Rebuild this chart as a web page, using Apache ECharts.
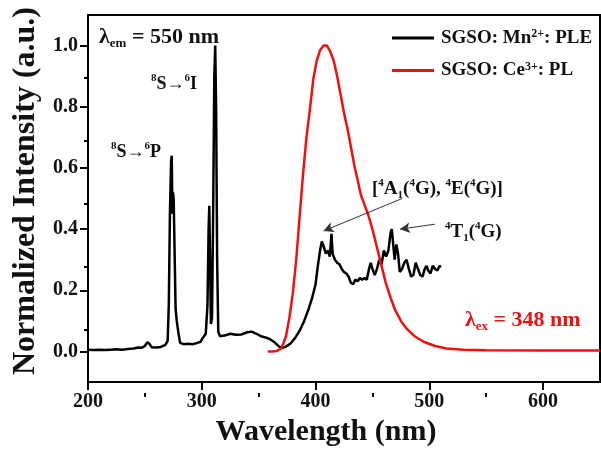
<!DOCTYPE html>
<html>
<head>
<meta charset="utf-8">
<script src="https://cdn.jsdelivr.net/npm/echarts@6/dist/echarts.min.js"></script>
<style>html,body{margin:0;padding:0;background:#fff}#c{width:601px;height:452px}</style>
</head>
<body>
<div id="c"></div>
<script>
// ---- data ----
const pleWavelength = [200,205,210,215,220,225,230,235,240,244,247,250,252,254,256,260,264,268,270,271,272,273,273.6,274.2,274.7,275.3,276,277,278,279.5,281,284,288,292,296,299,300.5,302,303.5,305,306,306.6,307.3,308,309,310,311,311.8,312.6,313.5,314.5,316,320,325,330,335,340,344,348,352,356,360,364,368,371,374,378,382,386,390,394,397,400,402,404,405.5,407,409,411,412.5,414,415,417,419,421,423,425,427,429,431,433,435,437,439,441,443,445,447,448.5,450,452,454,456,458,460,462,464,466,467,468.5,469.5,471,472.5,474,476,478,480,482,484,486,488,490,492,494,496,497.5,499,501,503,505,507,509,510];
const pleIntensity = [0.006,0.005,0.006,0.005,0.006,0.007,0.006,0.008,0.010,0.013,0.012,0.018,0.030,0.025,0.014,0.013,0.015,0.022,0.035,0.15,0.45,0.62,0.64,0.45,0.52,0.50,0.35,0.14,0.10,0.06,0.028,0.024,0.025,0.024,0.028,0.032,0.042,0.048,0.058,0.15,0.40,0.476,0.30,0.09,0.11,0.45,0.90,1.0,0.80,0.30,0.065,0.050,0.052,0.058,0.055,0.056,0.063,0.065,0.058,0.050,0.046,0.040,0.030,0.016,0.012,0.016,0.026,0.044,0.068,0.10,0.14,0.175,0.22,0.28,0.33,0.36,0.345,0.32,0.33,0.31,0.385,0.32,0.30,0.29,0.285,0.27,0.26,0.255,0.245,0.225,0.22,0.235,0.23,0.24,0.235,0.24,0.235,0.27,0.29,0.27,0.25,0.27,0.30,0.285,0.33,0.31,0.33,0.39,0.40,0.34,0.30,0.35,0.32,0.26,0.27,0.29,0.30,0.27,0.245,0.25,0.29,0.27,0.25,0.245,0.27,0.28,0.265,0.255,0.28,0.27,0.265,0.28,0.275];

const plWavelength = [358,362,366,370,374,377,380,383,386,389,392,395,398,401,404,407,410,413,416,419,422,425,428,431,434,437,440,443,446,450,454,458,462,466,470,475,480,487,495,505,515,530,550,600,650];
const plIntensity = [0,0,0.002,0.01,0.05,0.11,0.19,0.30,0.44,0.58,0.70,0.79,0.89,0.95,0.985,1.0,1.0,0.98,0.95,0.90,0.84,0.78,0.73,0.67,0.61,0.56,0.51,0.48,0.45,0.40,0.34,0.28,0.22,0.175,0.135,0.10,0.075,0.05,0.032,0.018,0.01,0.006,0.004,0.003,0.003];

const xMajorTicks = [200,300,400,500,600];
const xMinorTicks = [250,350,450,550];
const yMajorTicks = [0,0.2,0.4,0.6,0.8,1.0];
const yMinorTicks = [0.1,0.3,0.5,0.7,0.9];

const seriesNames = ['SGSO: Mn2+: PLE','SGSO: Ce3+: PL'];

// arrows (data coordinates): [from, to]
const arrowLines = [
  [[476,0.50],[407,0.394]],
  [[504.8,0.416],[474.2,0.40]]
];

const FONT = "'Liberation Serif','Times New Roman',serif";
const zip = (a,b) => a.map((v,i)=>[v,b[i]]);

const chart = echarts.init(document.getElementById('c'), null, {renderer:'canvas'});

const richBase = (size, color) => ({
  n:   {fontSize:size, fontWeight:'bold', fontFamily:FONT, color:color, lineHeight:size+4},
  sup: {fontSize:Math.round(size*0.6), fontWeight:'bold', fontFamily:FONT, color:color, verticalAlign:'top', lineHeight:Math.round(size*0.6)},
  sub: {fontSize:Math.round(size*0.6), fontWeight:'bold', fontFamily:FONT, color:color, verticalAlign:'bottom', lineHeight:Math.round(size*0.6)},
  ar:  {fontSize:size, fontWeight:'bold', fontFamily:FONT, color:color, lineHeight:size+4}
});

function txt(x, y, text, size, color) {
  return {
    type:'text', x:x, y:y, silent:true,
    style:{text:text, rich:richBase(size,color), align:'left', verticalAlign:'middle', fill:color}
  };
}

const gridBox = {left:88, right:1, top:15, bottom:59};

const option = {
  animation:false,
  backgroundColor:'#fff',
  grid:[
    Object.assign({show:true, borderColor:'#000', borderWidth:2, backgroundColor:'transparent'}, gridBox),
    Object.assign({show:false}, gridBox)
  ],
  legend:{
    orient:'vertical', left:387, top:23, itemWidth:42, itemHeight:3, itemGap:13, icon:'rect',
    data:seriesNames,
    formatter:function(name){
      if (name === seriesNames[0]) return '{n|SGSO: Mn}{sup|2+}{n|: PLE}';
      return '{n|SGSO: Ce}{sup|3+}{n|: PL}';
    },
    textStyle:{
      padding:[0,0,0,2],
      rich:{
        n:{fontSize:19, fontWeight:'bold', fontFamily:FONT, color:'#111', lineHeight:20},
        sup:{fontSize:12, fontWeight:'bold', fontFamily:FONT, color:'#111', verticalAlign:'top', lineHeight:12}
      }
    }
  },
  xAxis:[{
    gridIndex:0, type:'value', min:200, max:650, position:'bottom',
    name:'Wavelength (nm)', nameLocation:'middle', nameGap:28,
    nameTextStyle:{fontSize:30, fontWeight:'bold', fontFamily:FONT, color:'#111', padding:[0,36,0,0]},
    axisLine:{show:true, onZero:false, lineStyle:{color:'#000', width:2}},
    axisTick:{show:true, inside:false, length:8, lineStyle:{color:'#000', width:2}, customValues:xMajorTicks},
    axisLabel:{show:true, margin:10, fontSize:20, fontWeight:'bold', fontFamily:FONT, color:'#111', customValues:xMajorTicks},
    splitLine:{show:false}
  },{
    gridIndex:1, type:'value', min:200, max:650, position:'bottom',
    axisLine:{show:false, onZero:false},
    axisTick:{show:true, inside:false, length:4, lineStyle:{color:'#000', width:2}, customValues:xMinorTicks},
    axisLabel:{show:false},
    splitLine:{show:false}
  }],
  yAxis:[{
    gridIndex:0, type:'value', min:-0.1, max:1.1, position:'left',
    name:'Normalized Intensity (a.u.)', nameLocation:'middle', nameGap:46,
    nameTextStyle:{fontSize:32, fontWeight:'bold', fontFamily:FONT, color:'#111', padding:[0,0,0,15]},
    axisLine:{show:true, onZero:false, lineStyle:{color:'#000', width:2}},
    axisTick:{show:true, inside:false, length:8, lineStyle:{color:'#000', width:2}, customValues:yMajorTicks},
    axisLabel:{show:true, margin:10, fontSize:20, fontWeight:'bold', fontFamily:FONT, color:'#111', customValues:yMajorTicks,
      formatter:v=>v.toFixed(1)},
    splitLine:{show:false}
  },{
    gridIndex:1, type:'value', min:-0.1, max:1.1, position:'left',
    axisLine:{show:false, onZero:false},
    axisTick:{show:true, inside:false, length:4, lineStyle:{color:'#000', width:2}, customValues:yMinorTicks},
    axisLabel:{show:false},
    splitLine:{show:false}
  }],
  series:[{
    name:seriesNames[0], type:'line', xAxisIndex:0, yAxisIndex:0, data:zip(pleWavelength, pleIntensity),
    symbol:'none', color:'#000', lineStyle:{color:'#000', width:2.5},
    markLine:{
      silent:true, symbol:['none','arrow'], symbolSize:[8,10],
      lineStyle:{color:'#333', width:1, type:'solid'},
      label:{show:false},
      data:arrowLines.map(a=>[{coord:a[0]},{coord:a[1]}])
    }
  },{
    name:seriesNames[1], type:'line', xAxisIndex:0, yAxisIndex:0, data:zip(plWavelength, plIntensity),
    symbol:'none', color:'#f01010', lineStyle:{color:'#f01010', width:2.5}
  }],
  graphic:[
    txt(99, 37, '{n|λ}{sub|em}{n| = 550 nm}', 22, '#111'),
    txt(151, 84, '{sup|8}{n|S}{ar|→}{sup|6}{n|I}', 18, '#111'),
    txt(111, 152, '{sup|8}{n|S}{ar|→}{sup|6}{n|P}', 18, '#111'),
    txt(372, 189, '{n|[}{sup|4}{n|A}{sub|1}{n|(}{sup|4}{n|G), }{sup|4}{n|E(}{sup|4}{n|G)]}', 19, '#111'),
    txt(445, 232, '{sup|4}{n|T}{sub|1}{n|(}{sup|4}{n|G)}', 19, '#111'),
    txt(465, 320, '{n|λ}{sub|ex}{n| = 348 nm}', 22, '#f01010')
  ]
};
chart.setOption(option);
</script>
</body>
</html>
